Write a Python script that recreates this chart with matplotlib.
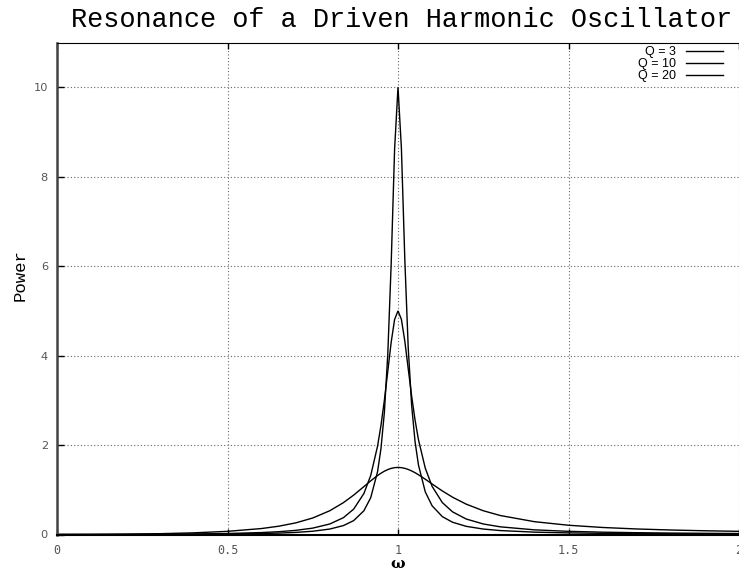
import matplotlib
matplotlib.use("Agg")
import matplotlib.pyplot as plt

# angular frequency samples
omega = [0.0, 0.1, 0.2, 0.3, 0.4, 0.5, 0.6, 0.65, 0.7, 0.75, 0.8, 0.84, 0.87, 0.9,
         0.92, 0.94, 0.95, 0.96, 0.97, 0.98, 0.99, 1.0, 1.01, 1.02, 1.03, 1.04, 1.05,
         1.06, 1.08, 1.1, 1.13, 1.16, 1.2, 1.25, 1.3, 1.4, 1.5, 1.6, 1.7, 1.8, 1.9, 2.0]

power_q3 = [0.0, 0.0017, 0.0072, 0.0179, 0.0369, 0.0706, 0.1335, 0.1851, 0.2596, 0.3692,
            0.5314, 0.7124, 0.8809, 1.0706, 1.1992, 1.3181, 1.3701, 1.4151, 1.4515, 1.4783,
            1.4946, 1.5, 1.4947, 1.4791, 1.4542, 1.4212, 1.3815, 1.3365, 1.2359, 1.1295,
            0.9738, 0.8339, 0.6787, 0.5314, 0.4243, 0.2867, 0.2069, 0.157, 0.1237, 0.1004,
            0.0834, 0.0706]

power_q10 = [0.0, 0.0005, 0.0022, 0.0054, 0.0113, 0.0221, 0.0436, 0.0626, 0.0925, 0.1427,
             0.2353, 0.3764, 0.5677, 0.9163, 1.3201, 1.9736, 2.4351, 2.9994, 3.6464, 4.2982,
             4.8058, 5.0, 4.8095, 4.322, 3.7048, 3.0947, 2.5603, 2.119, 1.482, 1.0765,
             0.7138, 0.5063, 0.3462, 0.2353, 0.1714, 0.1041, 0.071, 0.0521, 0.0401, 0.0321,
             0.0264, 0.0221]

power_q20 = [0.0, 0.0003, 0.0011, 0.0027, 0.0057, 0.0111, 0.0219, 0.0316, 0.0469, 0.0729,
             0.122, 0.1995, 0.3103, 0.5311, 0.8231, 1.4018, 1.9182, 2.7264, 4.0244, 6.0494,
             8.6095, 10.0, 8.633, 6.1446, 4.1695, 2.888, 2.0783, 1.5531, 0.9528, 0.6419,
             0.3997, 0.2739, 0.1826, 0.122, 0.088, 0.0529, 0.0359, 0.0262, 0.0202, 0.0161,
             0.0132, 0.0111]

labels = ["Q = 3", "Q = 10", "Q = 20"]
x_ticks = [0, 0.5, 1, 1.5, 2]
x_tick_labels = ["0", "0.5", "1", "1.5", "2"]
y_ticks = [0, 2, 4, 6, 8, 10]
y_tick_labels = ["0", "2", "4", "6", "8", "10"]

W, H = 739, 576
fig = plt.figure(figsize=(W / 100, H / 100), dpi=100)
ax = fig.add_axes([57 / W, (576 - 534.5) / H, 682 / W, 492 / H])

for ys, lab in zip([power_q3, power_q10, power_q20], labels):
    ax.plot(omega, ys, color="black", lw=1.0, label=lab, solid_joinstyle="miter")

ax.set_xlim(0, 2)
ax.set_ylim(0, 11)
ax.set_xticks(x_ticks)
ax.set_xticklabels(x_tick_labels, family="DejaVu Sans Mono", fontsize=8.5, color="#555555")
ax.set_yticks(y_ticks)
ax.set_yticklabels(y_tick_labels, family="DejaVu Sans", fontsize=8.2, color="#555555")
ax.tick_params(axis="x", direction="in", length=4, width=1, color="black",
               top=True, pad=7)
ax.tick_params(axis="y", direction="in", length=5, width=1, color="black",
               right=False, pad=6.5)
ax.grid(True, color="#666666", linestyle=(0, (1, 2)), lw=0.8)

ax.spines["right"].set_visible(False)
ax.spines["left"].set_linewidth(1.8)
ax.spines["left"].set_color("#444444")
ax.spines["bottom"].set_linewidth(1.5)
ax.spines["top"].set_linewidth(0.8)

fig.text(402 / W, 1 - 20 / H, "Resonance of a Driven Harmonic Oscillator",
         family="Liberation Mono", fontsize=19.4, ha="center", va="center")
fig.text(20 / W, 1 - 275 / H, "Power", family="Liberation Mono", fontsize=12.5,
         rotation=90, ha="center", va="center")
fig.text(398 / W, 1 - 564 / H, "ω", family="DejaVu Serif", fontweight="bold",
         fontsize=11, ha="center", va="center")

leg = ax.legend(loc="upper right", bbox_to_anchor=(723 / W, 1 - 46 / H),
                bbox_transform=fig.transFigure, frameon=False, markerfirst=False,
                prop={"family": "Liberation Sans", "size": 9}, handlelength=3.0,
                handletextpad=0.8, labelspacing=0.0, borderpad=0, borderaxespad=0)
for t in leg.get_texts():
    t.set_ha("right")

fig.savefig("out.png", dpi=100)
